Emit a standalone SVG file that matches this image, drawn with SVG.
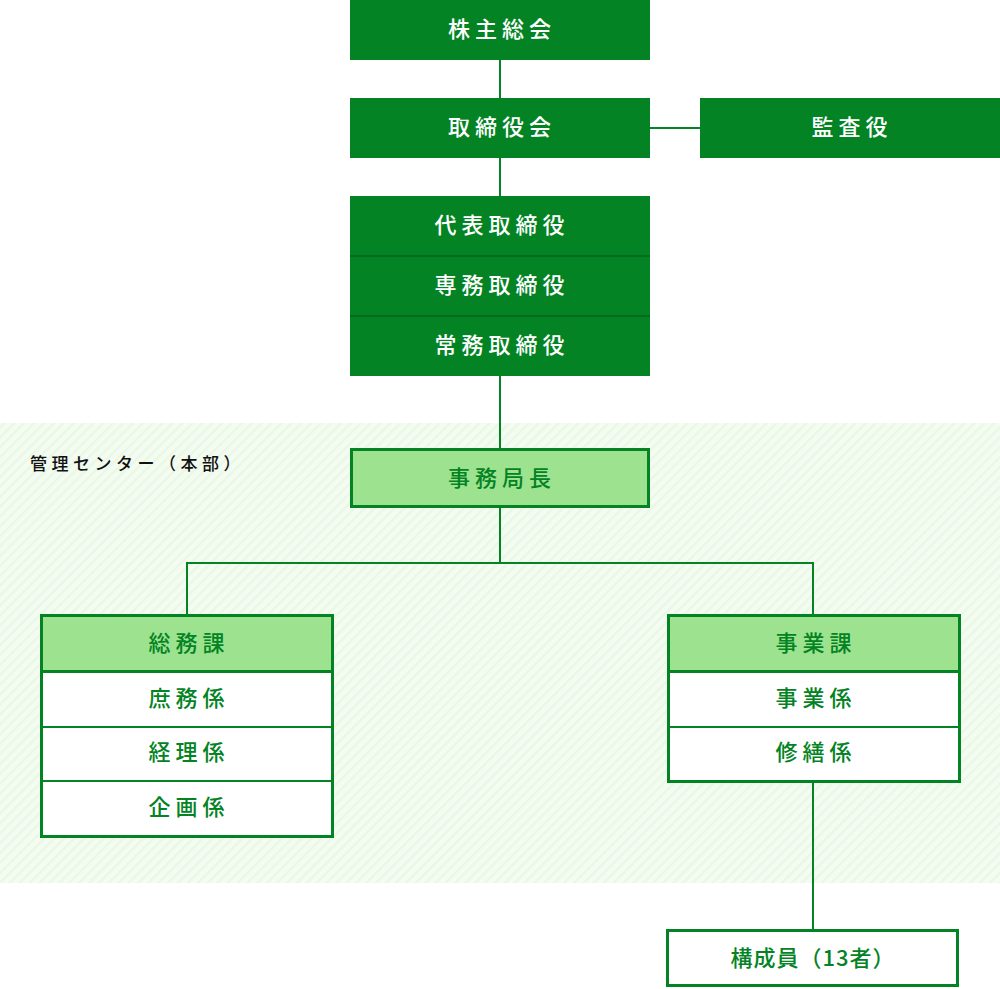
<svg xmlns="http://www.w3.org/2000/svg" width="1000" height="989" viewBox="0 0 1000 989">
<defs>
<pattern id="stripes" width="7" height="7" patternUnits="userSpaceOnUse" patternTransform="rotate(-45)">
<rect width="7" height="7" fill="#f4fcf2"/>
<rect width="7" height="2.5" fill="#e9f8e5"/>
</pattern>
</defs>
<style>
.dk{fill:#038324}
.lt{fill:#9de38f;stroke:#038324;stroke-width:3}
.wb{fill:#ffffff;stroke:#038324;stroke-width:3}
.ln{stroke:#038324;stroke-width:2;fill:none}
.sep{stroke:#036a1d;stroke-width:2}
.tw{font-family:"Noto Sans CJK JP","Noto Sans",sans-serif;font-size:22px;font-weight:500;fill:#ffffff;text-anchor:middle;letter-spacing:5px}
.tg{font-family:"Noto Sans CJK JP","Noto Sans",sans-serif;font-size:22px;font-weight:500;fill:#038324;text-anchor:middle;letter-spacing:5px}
.lbl{font-family:"Noto Sans CJK JP","Noto Sans",sans-serif;font-size:17px;font-weight:500;fill:#111111;letter-spacing:4.5px}
</style>
<rect id="area" x="0" y="423" width="1000" height="460" fill="url(#stripes)"/>
<text class="lbl" x="30" y="470">管理センター（本部）</text>
<g id="connectors">
<line class="ln" x1="500" y1="60" x2="500" y2="98"/>
<line class="ln" x1="650" y1="128" x2="700" y2="128"/>
<line class="ln" x1="500" y1="158" x2="500" y2="196"/>
<line class="ln" x1="500" y1="376" x2="500" y2="448"/>
<polyline class="ln" points="187,615 187,563 813,563 813,615"/>
<line class="ln" x1="500" y1="508" x2="500" y2="563"/>
<line class="ln" x1="813" y1="782" x2="813" y2="929"/>
</g>
<g id="n1">
<rect class="dk" x="350" y="0" width="300" height="60"/>
<text class="tw" x="502" y="37">株主総会</text>
</g>
<g id="n2">
<rect class="dk" x="350" y="98" width="300" height="60"/>
<text class="tw" x="502" y="135">取締役会</text>
</g>
<g id="n3">
<rect class="dk" x="700" y="98" width="300" height="60"/>
<text class="tw" x="852" y="135">監査役</text>
</g>
<g id="n4">
<rect class="dk" x="350" y="196" width="300" height="180"/>
<line class="sep" x1="350" y1="256" x2="650" y2="256"/>
<line class="sep" x1="350" y1="316" x2="650" y2="316"/>
<text class="tw" x="502" y="233">代表取締役</text>
<text class="tw" x="502" y="293">専務取締役</text>
<text class="tw" x="502" y="353">常務取締役</text>
</g>
<g id="n5">
<rect class="lt" x="351.5" y="449.5" width="297" height="57"/>
<text class="tg" x="502" y="486">事務局長</text>
</g>
<g id="n6">
<rect class="wb" x="41.5" y="615.5" width="291" height="221"/>
<rect class="lt" x="41.5" y="615.5" width="291" height="56"/>
<line class="ln" x1="41" y1="727" x2="333" y2="727" stroke-width="3"/>
<line class="ln" x1="41" y1="781" x2="333" y2="781" stroke-width="3"/>
<text class="tg" x="189" y="651">総務課</text>
<text class="tg" x="189" y="706">庶務係</text>
<text class="tg" x="189" y="760">経理係</text>
<text class="tg" x="189" y="815">企画係</text>
</g>
<g id="n7">
<rect class="wb" x="668.5" y="615.5" width="291" height="166"/>
<rect class="lt" x="668.5" y="615.5" width="291" height="56"/>
<line class="ln" x1="668" y1="727" x2="960" y2="727" stroke-width="3"/>
<text class="tg" x="816" y="651">事業課</text>
<text class="tg" x="816" y="706">事業係</text>
<text class="tg" x="816" y="760">修繕係</text>
</g>
<g id="n8">
<rect class="wb" x="667.5" y="930.5" width="290" height="55"/>
<text class="tg" x="813" y="966" style="letter-spacing:1px">構成員（13者）</text>
</g>
</svg>
